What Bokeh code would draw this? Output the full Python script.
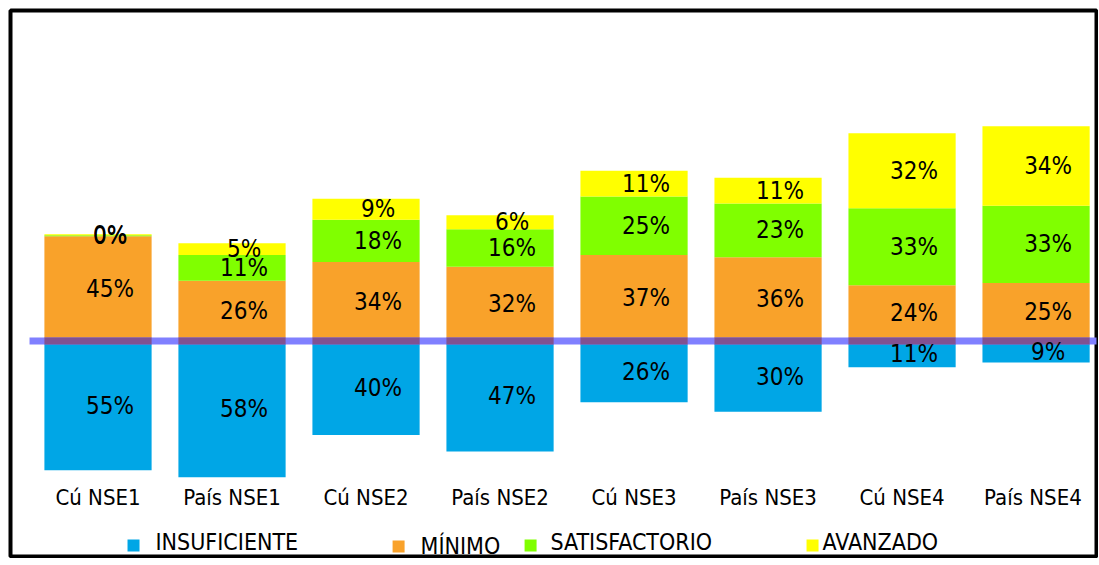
from bokeh.plotting import figure
from bokeh.models import ColumnDataSource, Range1d
from bokeh.core.properties import value
from bokeh.embed import file_html
from bokeh.resources import INLINE

# ---- data ----
categories = ["Cú NSE1", "País NSE1", "Cú NSE2", "País NSE2",
              "Cú NSE3", "País NSE3", "Cú NSE4", "País  NSE4"]
insuficiente = [55, 58, 40, 47, 26, 30, 11, 9]
minimo = [45, 26, 34, 32, 37, 36, 24, 25]
satisfactorio = [0.4, 11, 18, 16, 25, 23, 33, 33]
avanzado = [0.4, 5, 9, 6, 11, 11, 32, 34]
legend_labels = ["INSUFICIENTE", "MÍNIMO", "SATISFACTORIO", "AVANZADO"]

colors = ["#00A6E6", "#F9A22A", "#80FF00", "#FFFF00"]
FONT = "Liberation Sans Narrow, DejaVu Sans Condensed, Arial Narrow, sans-serif"

n = len(categories)
xs = list(range(n))

p = figure(width=1098, height=558, output_backend="svg", toolbar_location=None,
           x_axis_type=None, y_axis_type=None,
           x_range=Range1d(-0.653, 7.451), y_range=Range1d(-91.9, 141.5),
           min_border_left=10, min_border_top=10, min_border_right=2, min_border_bottom=2,
           background_fill_color="white", border_fill_color="white")
p.grid.visible = False
p.outline_line_color = "black"
p.outline_line_width = 4

# stacked segments
ins_bot = [-v for v in insuficiente]
m_top = [m for m in minimo]
s_top = [m + s for m, s in zip(minimo, satisfactorio)]
a_top = [t + a for t, a in zip(s_top, avanzado)]

src = ColumnDataSource(dict(x=xs, ins_bot=ins_bot, zero=[0] * n, m_top=m_top,
                            s_top=s_top, a_top=a_top))
p.vbar(x="x", width=0.8, bottom="ins_bot", top="zero", source=src, fill_color=colors[0], line_color=None)
p.vbar(x="x", width=0.8, bottom="zero", top="m_top", source=src, fill_color=colors[1], line_color=None)
p.vbar(x="x", width=0.8, bottom="m_top", top="s_top", source=src, fill_color=colors[2], line_color=None)
p.vbar(x="x", width=0.8, bottom="s_top", top="a_top", source=src, fill_color=colors[3], line_color=None)

# baseline line
p.segment(x0=[-0.511], y0=[0.2], x1=[8], y1=[0.2], line_color="#8080FF", line_width=7)
p.rect(x=xs, y=[0.2] * n, width=0.8, height=7, height_units="screen",
       fill_color="#815191", line_color=None)

# value labels
lx, ly, lt = [], [], []
for i in range(n):
    segs = [(-insuficiente[i] / 2, insuficiente[i]),
            (minimo[i] / 2, minimo[i]),
            ((m_top[i] + s_top[i]) / 2, satisfactorio[i]),
            ((s_top[i] + a_top[i]) / 2, avanzado[i])]
    for y, v in segs:
        lx.append(i + 0.09)
        ly.append(y)
        lt.append(f"{round(v)}%")
p.text(x=lx, y=ly, text=lt, text_align="center", text_baseline="middle",
       text_font=value(FONT), text_font_size="24px", text_color="black")

# category labels
p.text(x=xs, y=[-66.7] * n, text=categories, text_align="center", text_baseline="middle",
       text_font=value(FONT), text_font_size="22px", text_color="black")

# legend
sq_x = [0.265, 2.243, 3.228, 5.332]
sq_y = [-87.2, -87.6, -87.2, -87.2]
tx_x = [0.429, 2.407, 3.377, 5.407]
tx_y = [-85.9, -87.6, -85.9, -85.9]
p.rect(x=sq_x, y=sq_y, width=12, height=12, width_units="screen", height_units="screen",
       fill_color=colors, line_color=None)
p.text(x=tx_x, y=tx_y, text=legend_labels, text_align="left", text_baseline="middle",
       text_font=value(FONT), text_font_size="23px", text_color="black")

open("out.html", "w").write(file_html(p, INLINE))
